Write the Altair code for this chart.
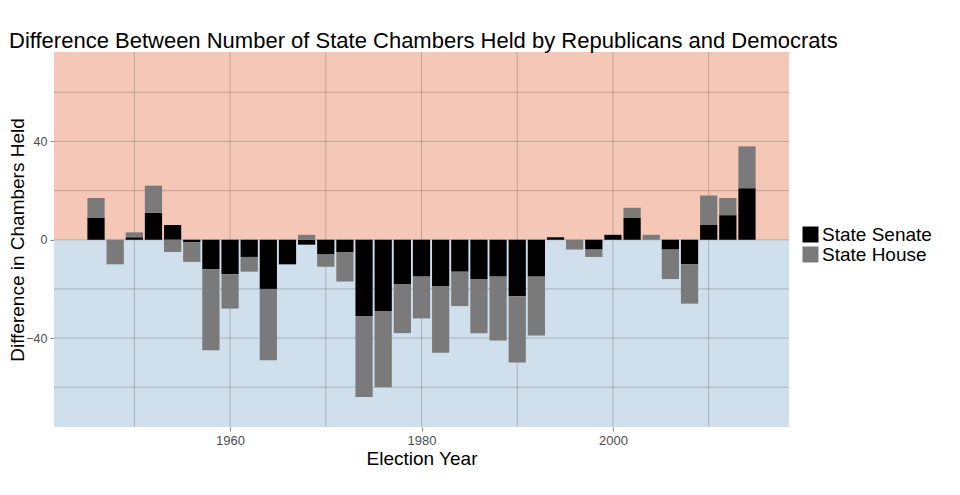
import altair as alt
import pandas as pd

# ---- data ----
years = list(range(1946, 2016, 2))
senate = [9, 0, 1, 11, 6, -1, -12, -14, -7, -20, -10, -2, -6, -5, -31, -29, -18, -15,
          -19, -13, -16, -15, -23, -15, 1, 0, -4, 2, 9, 0, -4, -10, 6, 10, 21]
house = [8, -10, 2, 11, -5, -8, -33, -14, -6, -29, 0, 2, -5, -12, -33, -31, -20, -17,
         -27, -14, -22, -26, -27, -24, 0, -4, -3, 0, 4, 2, -12, -16, 12, 7, 17]
series_names = ["State Senate", "State House"]
x_ticks = [1960, 1980, 2000]
y_ticks = [-40, 0, 40]
x_grid = [1950, 1960, 1970, 1980, 1990, 2000, 2010]
y_grid = [-60, -40, -20, 0, 20, 40, 60]
x_domain = [1941.61, 2018.39]
y_domain = [-76.2, 76.4]
bar_half_width = 0.9

rows = []
for yr, s, h in zip(years, senate, house):
    rows.append({"year": yr, "chamber": series_names[0], "value": s, "rank": 0})
    rows.append({"year": yr, "chamber": series_names[1], "value": h, "rank": 1})
df = pd.DataFrame(rows)

top_bg = pd.DataFrame({"x0": [x_domain[0]], "x1": [x_domain[1]], "lo": [0], "hi": [y_domain[1]]})
bot_bg = pd.DataFrame({"x0": [x_domain[0]], "x1": [x_domain[1]], "lo": [y_domain[0]], "hi": [0]})
xg = pd.DataFrame({"v": x_grid})
yg = pd.DataFrame({"v": y_grid})

xs = alt.Scale(domain=x_domain, nice=False, zero=False)
ys = alt.Scale(domain=y_domain, nice=False, zero=False)

x_axis = alt.Axis(values=x_ticks, title="Election Year", grid=False, domain=False,
                  tickColor="#888888", tickSize=4, labelPadding=3, labelFontSize=13,
                  labelColor="#4d4d4d", titleFontSize=19, titleFontWeight="normal",
                  titleColor="#000000", titlePadding=2, format="d")
y_axis = alt.Axis(values=y_ticks, title="Difference in Chambers Held", grid=False, domain=False,
                  tickColor="#888888", tickSize=4, labelPadding=3, labelFontSize=12.5,
                  labelColor="#4d4d4d", titleFontSize=19, titleFontWeight="normal",
                  titleColor="#000000", titlePadding=-2)

def bg_layer(data, color):
    return alt.Chart(data).mark_rect(color=color).encode(
        x=alt.X("x0:Q", scale=xs, axis=x_axis),
        x2="x1:Q",
        y=alt.Y("lo:Q", scale=ys, axis=y_axis),
        y2="hi:Q",
    )

top = bg_layer(top_bg, "#F4C7B6")
bottom = bg_layer(bot_bg, "#CFDFEC")

grid_v = alt.Chart(xg).mark_rule(color="#5a5a5a", opacity=0.33, strokeWidth=1).encode(
    x=alt.X("v:Q", scale=xs, axis=x_axis)
)
grid_h = alt.Chart(yg).mark_rule(color="#5a5a5a", opacity=0.33, strokeWidth=1).encode(
    y=alt.Y("v:Q", scale=ys, axis=y_axis)
)

bars = alt.Chart(df).transform_calculate(
    x0=f"datum.year - {bar_half_width}", x1=f"datum.year + {bar_half_width}"
).transform_stack(
    stack="value", groupby=["year"], as_=["y0", "y1"], offset="zero",
    sort=[alt.SortField("rank", order="ascending")]
).mark_rect().encode(
    x=alt.X("x0:Q", scale=xs, axis=x_axis),
    x2="x1:Q",
    y=alt.Y("y0:Q", scale=ys, axis=y_axis),
    y2="y1:Q",
    color=alt.Color("chamber:N",
                    scale=alt.Scale(domain=series_names, range=["#000000", "#7a7a7a"]),
                    legend=alt.Legend(title=None, orient="none", legendX=747, legendY=173,
                                      direction="vertical", columns=1,
                                      symbolType="square", symbolSize=256,
                                      symbolStrokeWidth=0, symbolOpacity=1,
                                      labelFontSize=19, labelColor="#000000",
                                      labelOffset=2, rowPadding=-6, padding=0,
                                      labelLimit=300)),
)

chart = alt.layer(top, bottom, grid_v, grid_h, bars).properties(
    width=735, height=375,
    title=alt.TitleParams(
        "Difference Between Number of State Chambers Held by Republicans and Democrats",
        anchor="start", frame="group", dx=-45, dy=22, fontSize=22, fontWeight="normal",
        color="#000000", baseline="alphabetic", offset=4),
    autosize=alt.AutoSizeParams(type="none"),
    padding={"left": 46, "top": 44, "right": 163, "bottom": 60},
).configure(
    font="Liberation Sans",
).configure_view(stroke=None)

chart.save("out.html", embed_options={"renderer": "svg", "actions": False})
